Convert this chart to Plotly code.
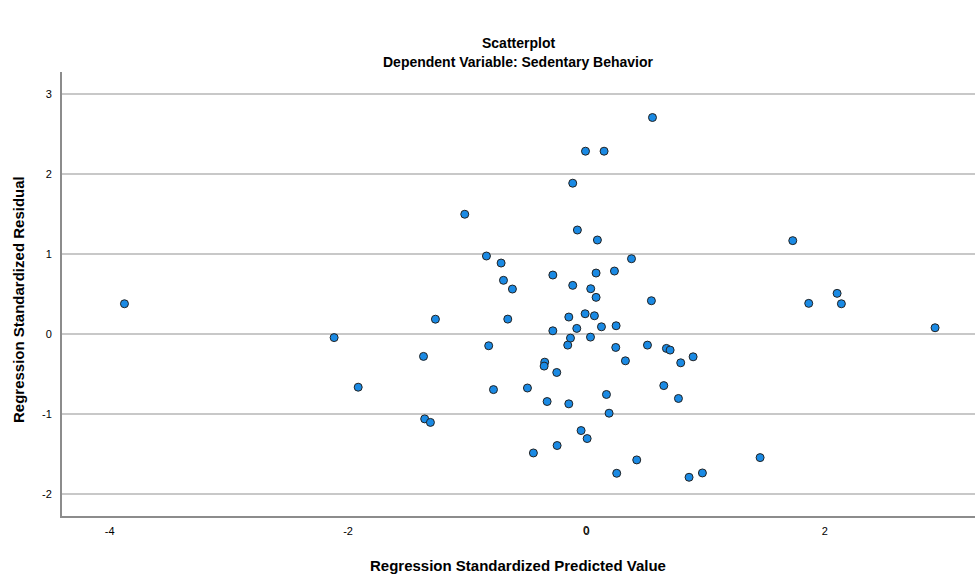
import plotly.graph_objects as go

# Regression Standardized Predicted Value
pred = [-3.876, -2.117, -1.915, -1.267, -1.367, -1.357, -1.309, 0.554, -0.008, 0.148,
        -0.115, -1.021, -0.076, 0.092, -0.839, -0.716, 0.378, -0.282, 0.081, 0.235,
        -0.696, -0.621, -0.115, 0.036, 0.081, 0.545, -0.660, -0.148, -0.011, 0.067,
        -0.081, 0.126, 0.249, -0.282, -0.134, -0.157, 0.034, -0.820, 0.246, 0.512,
        0.671, 0.702, 0.791, 0.895, 0.327, -0.350, -0.355, -0.249, -0.780, -0.495,
        0.649, -0.330, -0.148, 0.168, 0.190, 0.772, -0.045, 0.006, -0.246, -0.445,
        0.422, 0.254, 0.861, 0.973, 1.457, 1.731, 1.865, 2.103, 2.139, 2.925]
# Regression Standardized Residual
resid = [0.383, -0.040, -0.660, 0.190, -0.275, -1.056, -1.100, 2.711, 2.290, 2.290,
         1.890, 1.502, 1.305, 1.180, 0.980, 0.892, 0.946, 0.742, 0.767, 0.792,
         0.676, 0.567, 0.613, 0.571, 0.463, 0.421, 0.191, 0.217, 0.258, 0.233,
         0.075, 0.095, 0.108, 0.045, -0.046, -0.134, -0.034, -0.142, -0.163, -0.134,
         -0.175, -0.196, -0.355, -0.280, -0.330, -0.347, -0.396, -0.476, -0.690, -0.670,
         -0.640, -0.839, -0.868, -0.751, -0.985, -0.801, -1.202, -1.302, -1.389, -1.482,
         -1.569, -1.736, -1.786, -1.732, -1.540, 1.172, 0.388, 0.513, 0.383, 0.083]

x_ticks = [-4, -2, 0, 2]
x_labels = ["-4", "-2", "0", "2"]
y_ticks = [-2, -1, 0, 1, 2, 3]
y_labels = ["-2", "-1", "0", "1", "2", "3"]

X_RANGE = [-4.40, 3.26]
Y_RANGE = [-2.27, 3.28]

FONT = "Liberation Sans, Arial, sans-serif"

W, H = 977, 576
ML, MR, MT, MB = 62, 2, 72, 60
plot_h = H - MT - MB
plot_w = W - ML - MR


def py2paper(py):
    return (H - MB - py) / plot_h


def px2paper(px):
    return (px - ML) / plot_w


fig = go.Figure(go.Scatter(
    x=pred, y=resid, mode="markers",
    marker=dict(size=8, color="#1a8ae4", line=dict(color="#222222", width=1)),
    hoverinfo="x+y",
))

fig.update_layout(
    width=W, height=H,
    margin=dict(l=ML, r=MR, t=MT, b=MB),
    paper_bgcolor="white", plot_bgcolor="white",
    showlegend=False,
    font=dict(family=FONT, size=11, color="black"),
)

ann_common = dict(xref="paper", yref="paper", showarrow=False,
                  xanchor="center", yanchor="middle")
fig.add_annotation(text="<b>Scatterplot</b>", x=px2paper(518), y=py2paper(43),
                   font=dict(size=14, family=FONT), **ann_common)
fig.add_annotation(text="<b>Dependent Variable: Sedentary Behavior</b>",
                   x=px2paper(518), y=py2paper(62),
                   font=dict(size=14, family=FONT), **ann_common)
fig.add_annotation(text="<b>Regression Standardized Predicted Value</b>",
                   x=px2paper(518), y=py2paper(565),
                   font=dict(size=15, family=FONT), **ann_common)
fig.add_annotation(text="<b>Regression Standardized Residual</b>",
                   x=px2paper(18), y=py2paper(300), textangle=-90,
                   font=dict(size=15, family=FONT), **ann_common)

# the centre x tick label ("0") is not rendered by the axis in this environment,
# so it is placed at the data value 0 through the x scale
for v, lab in zip(x_ticks, x_labels):
    if v == 0:
        fig.add_annotation(text=lab, x=v, xref="x", y=py2paper(530), yref="paper",
                           showarrow=False, xanchor="center", yanchor="middle",
                           font=dict(size=11, family=FONT, color="black"))

fig.update_xaxes(range=X_RANGE, tickmode="array", tickvals=x_ticks, ticktext=x_labels,
                 showticklabels=True,
                 showgrid=False, zeroline=False, showline=True, linecolor="#8c8c8c",
                 linewidth=2, ticks="outside", ticklen=4, tickcolor="rgba(0,0,0,0)")
fig.update_yaxes(range=Y_RANGE, tickmode="array", tickvals=y_ticks, ticktext=y_labels,
                 showgrid=True, gridcolor="#c8c8c8", gridwidth=1.5,
                 zeroline=False,
                 showline=True, linecolor="#8c8c8c", linewidth=2,
                 ticks="outside", ticklen=6, tickcolor="rgba(0,0,0,0)")

fig.write_html("out.html")
